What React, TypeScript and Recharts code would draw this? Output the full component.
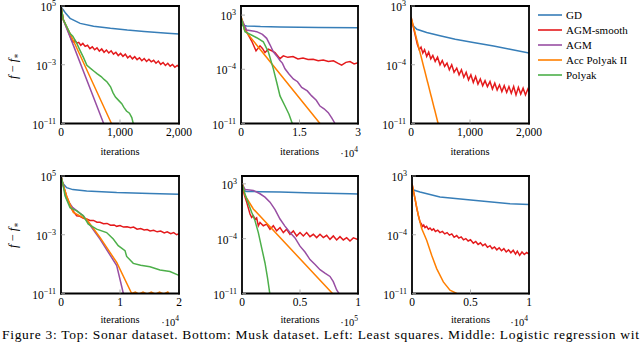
import React from 'react';
import { LineChart, Line, XAxis, YAxis } from 'recharts';

type Pt = [number, number];

const NAMES = ['GD', 'AGM-smooth', 'AGM', 'Acc Polyak II', 'Polyak'];
const COLORS = ['#377eb8', '#e41a1c', '#984ea3', '#ff7f00', '#4daf4a'];
const FONT = "'Liberation Serif', 'DejaVu Serif', serif";
const TXT = { fontFamily: FONT };
const CAPTION = 'Figure 3: Top: Sonar dataset. Bottom: Musk dataset. Left: Least squares. Middle: Logistic regression wit';

// ---------- Top-left: Sonar, least squares ----------
const sonarLsqXTicks = [0, 1000, 2000];
const sonarLsqXLabels = ['0', '1,000', '2,000'];
const sonarLsqYTicks = [1e-11, 1e-3, 1e5];
const sonarLsqYExps = ['−11', '−3', '5'];
const sonarLsqGD: Pt[] = [[0, 1e5], [15, 5e4], [40, 2.8e4], [80, 1e4], [154, 2.1e3], [325, 4.3e2], [552, 1.8e2], [838, 9e1], [1123, 5.2e1], [1408, 3.5e1], [1806, 1.9e1], [2000, 1.5e1]];
const sonarLsqAGMs: Pt[] = [[0, 1e5], [40, 1.3e3], [120, 4e1], [180, 2.2], [210, 1.26], [240, 2], [270, 0.89], [300, 1.12], [335, 0.45], [370, 0.8], [410, 0.32], [450, 0.45], [490, 0.16], [530, 0.28], [570, 0.11], [610, 0.2], [650, 0.071], [690, 0.14], [730, 0.05], [770, 0.1], [810, 0.04], [850, 0.079], [890, 0.028], [930, 0.05], [970, 0.018], [1010, 0.035], [1050, 0.014], [1090, 0.028], [1130, 8.9e-3], [1170, 0.016], [1210, 6.3e-3], [1250, 0.0126], [1290, 5e-3], [1330, 8.9e-3], [1370, 3.5e-3], [1410, 7.1e-3], [1450, 2.8e-3], [1490, 5.6e-3], [1530, 2.5e-3], [1570, 4e-3], [1610, 1.6e-3], [1650, 3.2e-3], [1690, 1.1e-3], [1730, 2e-3], [1770, 7.9e-4], [1810, 1.6e-3], [1850, 6.3e-4], [1890, 1.1e-3], [1930, 4.5e-4], [1970, 7.9e-4], [2000, 5e-4]];
const sonarLsqAGM: Pt[] = [[0, 1e5], [20, 1e4], [40, 1.2e3], [154, 6.3], [723, 1e-11]];
const sonarLsqAccP: Pt[] = [[0, 1e5], [20, 1e4], [40, 1.3e3], [154, 18], [855, 1e-11]];
const sonarLsqPolyak: Pt[] = [[0, 1e5], [20, 1e4], [40, 1.3e3], [154, 18], [200, 7.9], [268, 0.8], [320, 0.1], [380, 1e-2], [439, 8.5e-4], [500, 3.2e-4], [560, 1.3e-4], [610, 6.3e-5], [680, 2.5e-5], [730, 1e-5], [781, 4.5e-6], [840, 1e-6], [880, 1.6e-7], [923, 4e-8], [980, 1.3e-8], [1030, 5e-9], [1066, 1.6e-9], [1110, 5e-10], [1160, 2.5e-10], [1200, 6.3e-11], [1225, 1e-11]];

// ---------- Top-middle: Sonar, logistic regression ----------
const sonarLogXTicks = [0, 15000, 30000];
const sonarLogXLabels = ['0', '1.5', '3'];
const sonarLogYTicks = [1e-11, 1e-4, 1e3];
const sonarLogYExps = ['−11', '−4', '3'];
const sonarLogGD: Pt[] = [[0, 63], [300, 50], [1500, 40], [5000, 33], [10000, 30], [15000, 27], [20000, 26], [30000, 24]];
const sonarLogAGMs: Pt[] = [[0, 500], [1000, 20], [2000, 2], [2740, 0.45], [3850, 0.024], [4870, 0.107], [5500, 0.05], [6150, 0.0145], [7000, 0.039], [7900, 0.025], [8720, 0.0145], [10000, 2.4e-3], [10850, 5.4e-3], [12000, 3.5e-3], [13330, 4.5e-3], [14600, 2.2e-3], [15900, 2.8e-3], [17200, 1.8e-3], [18500, 2e-3], [19800, 1.26e-3], [21100, 1.6e-3], [22400, 1e-3], [23700, 1.26e-3], [24800, 6.3e-4], [25800, 3.5e-4], [26900, 7.9e-4], [27950, 1e-3], [29000, 5e-4], [30000, 7.1e-4]];
const sonarLogAGM: Pt[] = [[0, 500], [1450, 12], [4020, 7.2], [5500, 3.2], [6580, 1], [7500, 0.126], [8290, 0.018], [9200, 5e-3], [10000, 1.4e-3], [10600, 6.3e-4], [11280, 1.15e-4], [12300, 2.5e-5], [13410, 5.6e-6], [14500, 2.5e-6], [15560, 4.6e-7], [17000, 1.6e-7], [18120, 3.7e-8], [19300, 1e-8], [20250, 1.8e-9], [21300, 7.9e-10], [22380, 2.5e-10], [23300, 5e-11], [24100, 1e-11]];
const sonarLogAccP: Pt[] = [[0, 760], [855, 13], [20250, 1e-11]];
const sonarLogPolyak: Pt[] = [[0, 500], [1026, 7.2], [4020, 1.2], [5720, 0.36], [7000, 0.018], [8290, 1.15e-4], [9150, 2.1e-6], [10000, 3.7e-8], [11280, 1.8e-9], [12300, 1.6e-10], [13150, 1e-11]];

// ---------- Top-right: Sonar, regularized ----------
const sonarRegXTicks = [0, 1000, 2000];
const sonarRegXLabels = ['0', '1,000', '2,000'];
const sonarRegYTicks = [1e-11, 1e-4, 1e3];
const sonarRegYExps = ['−11', '−4', '3'];
const sonarRegGD: Pt[] = [[0, 10], [30, 5], [100, 1.7], [266, 0.68], [492, 0.28], [750, 0.11], [1056, 0.045], [1400, 0.017], [1678, 7.2e-3], [2000, 2.5e-3]];
const sonarRegAGMs: Pt[] = [[0, 50], [107, 2.8e-2], [140, 6.3e-3], [170, 1.26e-2], [200, 2.5e-3], [230, 6.3e-3], [266, 1e-3], [300, 3.2e-3], [335, 5e-4], [370, 1.26e-3], [410, 2.5e-4], [450, 7.9e-4], [492, 1e-4], [530, 3.2e-4], [570, 6.3e-5], [610, 1.6e-4], [650, 2.5e-5], [690, 1e-4], [730, 1.26e-5], [775, 4e-5], [815, 6.3e-6], [855, 2.5e-5], [895, 3.2e-6], [935, 1.26e-5], [975, 1.6e-6], [1015, 6.3e-6], [1056, 7.9e-7], [1095, 4e-6], [1135, 5e-7], [1175, 2e-6], [1215, 3.2e-7], [1255, 1.26e-6], [1295, 2.5e-7], [1339, 1e-6], [1380, 1.26e-7], [1420, 6.3e-7], [1460, 1e-7], [1500, 4e-7], [1540, 6.3e-8], [1580, 3.2e-7], [1622, 5e-8], [1660, 2.5e-7], [1700, 4e-8], [1740, 2.5e-7], [1780, 2.5e-8], [1820, 2e-7], [1860, 3.2e-8], [1900, 1.6e-7], [1940, 2.5e-8], [1980, 1.26e-7], [2000, 6.3e-8]];
const sonarRegAccP: Pt[] = [[0, 50], [460, 1e-11]];

// ---------- Bottom-left: Musk, least squares ----------
const muskLsqXTicks = [0, 10000, 20000];
const muskLsqXLabels = ['0', '1', '2'];
const muskLsqYTicks = [1e-11, 1e-3, 1e5];
const muskLsqYExps = ['−11', '−3', '5'];
const muskLsqGD: Pt[] = [[0, 1e5], [300, 1e4], [960, 2.6e3], [2000, 1.4e3], [4350, 9.3e2], [9440, 5.5e2], [15080, 4e2], [20000, 3.2e2]];
const muskLsqAGMs: Pt[] = [[0, 1e5], [300, 1e4], [960, 160], [1800, 3.2], [2660, 0.38], [3200, 0.32], [3800, 0.18], [4350, 0.14], [4900, 0.089], [5500, 0.089], [6100, 0.05], [6610, 0.05], [7200, 0.032], [7800, 0.035], [8400, 0.02], [9000, 0.022], [9440, 0.014], [10000, 0.018], [10600, 0.011], [11200, 0.0126], [11800, 8.9e-3], [12300, 0.011], [12900, 5.6e-3], [13500, 7.1e-3], [14100, 4.5e-3], [14600, 5e-3], [15100, 3.2e-3], [15700, 4e-3], [16300, 2.5e-3], [16900, 3.2e-3], [17500, 1.8e-3], [18000, 2.5e-3], [18600, 1.4e-3], [19100, 2e-3], [19600, 1e-3], [20000, 1.4e-3]];
const muskLsqAGM: Pt[] = [[0, 1e5], [390, 4.4e3], [960, 69], [2000, 5], [3780, 0.38], [6610, 2.6e-4], [9440, 6.3e-8], [10570, 1e-11]];
const muskLsqAccP: Pt[] = [[0, 1e5], [300, 1e4], [960, 190], [2090, 1.07], [4350, 0.13], [6610, 4.3e-4], [9440, 1.7e-7], [11980, 1e-11], [12600, 1.6e-11], [13200, 8e-12], [13900, 1.6e-11], [14600, 8e-12], [15300, 1.6e-11], [16000, 8e-12], [16700, 1.6e-11], [17400, 8e-12], [18100, 1.6e-11], [18500, 5e-12]];
const muskLsqPolyak: Pt[] = [[0, 1e5], [300, 1e4], [680, 200], [1530, 5], [2660, 1.8], [3780, 0.38], [4630, 0.028], [6040, 5.9e-3], [7730, 2e-3], [8860, 2.6e-4], [9700, 3.2e-5], [10850, 6.8e-6], [11130, 1.1e-6], [12250, 1.26e-7], [13500, 7e-8], [15080, 4.5e-8], [16780, 1.6e-8], [18470, 1e-8], [19880, 3.2e-9], [20000, 3e-9]];

// ---------- Bottom-middle: Musk, logistic regression ----------
const muskLogXTicks = [0, 50000, 100000];
const muskLogXLabels = ['0', '0.5', '1'];
const muskLogYTicks = [1e-11, 1e-4, 1e3];
const muskLogYExps = ['−11', '−4', '3'];
const muskLogGD: Pt[] = [[0, 240], [1000, 150], [4020, 107], [15000, 100], [32760, 89], [61470, 66], [93100, 54], [100000, 52]];
const muskLogAGMs: Pt[] = [[0, 650], [2000, 40], [4020, 4.6], [6900, 0.14], [8330, 5.2e-2], [9770, 8.5e-2], [11210, 3.2e-2], [12600, 4.5e-2], [14080, 4.4e-3], [15520, 1.17e-2], [18390, 4.4e-3], [21260, 7.1e-3], [24140, 1.6e-3], [27010, 4.4e-3], [29880, 9.8e-4], [32760, 2.6e-3], [35630, 6e-4], [38510, 1.6e-3], [41380, 3.6e-4], [44250, 9.8e-4], [47130, 2.2e-4], [50000, 6e-4], [52870, 2.2e-4], [55750, 6e-4], [58620, 1.8e-4], [61490, 3.6e-4], [64370, 1.35e-4], [67240, 3.6e-4], [70110, 1.35e-4], [72990, 2.7e-4], [75860, 8.1e-5], [78730, 2.2e-4], [81600, 6.8e-5], [84480, 1.8e-4], [87350, 6.8e-5], [90220, 1.35e-4], [93100, 5e-5], [96000, 1.26e-4], [100000, 7.9e-5]];
const muskLogAGM: Pt[] = [[0, 1070], [2590, 195], [9770, 145], [15500, 54], [19800, 20], [24140, 4.6], [28500, 0.5], [32760, 0.032], [37000, 4e-3], [41380, 6e-4], [45700, 1.26e-4], [50000, 1.1e-5], [54300, 2e-6], [58620, 2.1e-7], [63000, 5e-8], [67240, 1.1e-8], [71500, 4e-9], [75860, 1.5e-9], [78700, 3.2e-10], [81610, 2.8e-11], [84480, 6.3e-12]];
const muskLogAccP: Pt[] = [[0, 1700], [2590, 33], [9770, 0.62], [78000, 1e-11]];
const muskLogPolyak: Pt[] = [[0, 1070], [2590, 50], [4020, 12], [8330, 0.23], [11000, 0.025], [14080, 6e-4], [17000, 6.3e-6], [19830, 7.9e-8], [22000, 1e-9], [24140, 6.3e-12]];

// ---------- Bottom-right: Musk, regularized ----------
const muskRegXTicks = [0, 5000, 10000];
const muskRegXLabels = ['0', '0.5', '1'];
const muskRegYTicks = [1e-11, 1e-4, 1e3];
const muskRegYExps = ['−11', '−4', '3'];
const muskRegGD: Pt[] = [[0, 32], [200, 20], [684, 12.6], [2393, 3.2], [5242, 1.26], [8376, 0.51], [10000, 0.4]];
const muskRegAGMs: Pt[] = [[0, 120], [256, 2], [400, 0.16], [540, 2e-2], [684, 3.3e-3], [800, 2e-3], [900, 1e-3], [1000, 1.4e-3], [1111, 7.1e-4], [1250, 1e-3], [1400, 4.5e-4], [1538, 6.3e-4], [1700, 3.5e-4], [1850, 5e-4], [2000, 2.5e-4], [2200, 3.5e-4], [2393, 1.8e-4], [2600, 2.5e-4], [2800, 1.26e-4], [3000, 1.8e-4], [3200, 8.9e-5], [3400, 1.26e-4], [3600, 5e-5], [3818, 7.9e-5], [4000, 4e-5], [4200, 5.6e-5], [4400, 2.5e-5], [4600, 3.5e-5], [4800, 1.8e-5], [5000, 2.5e-5], [5242, 1e-5], [5450, 1.6e-5], [5650, 7.1e-6], [5850, 1.1e-5], [6050, 5e-6], [6250, 7.9e-6], [6450, 3.2e-6], [6667, 5e-6], [6850, 2.2e-6], [7050, 3.5e-6], [7250, 1.6e-6], [7450, 2.8e-6], [7650, 1.26e-6], [7850, 2.2e-6], [8050, 8.9e-7], [8250, 1.6e-6], [8450, 7.1e-7], [8650, 1.4e-6], [8850, 5e-7], [9000, 1.1e-6], [9200, 3.5e-7], [9400, 8.9e-7], [9600, 4.5e-7], [9800, 7.9e-7], [10000, 5e-7]];
const muskRegAccP: Pt[] = [[0, 120], [256, 2], [541, 2.1e-2], [826, 5.4e-4], [1254, 2.2e-5], [1681, 3.6e-7], [2108, 9.3e-9], [2678, 2.4e-10], [3248, 2.5e-11], [3818, 1e-11]];

const frameLine = { stroke: '#000', strokeWidth: 1.8, strokeLinecap: 'square' as const };
const tickLineStyle = { stroke: '#9a9a9a', strokeWidth: 0.8 };

type SeriesDef = { pts: Pt[]; color: string };
type PanelProps = {
  left: number; top: number; right: number; bottom: number;
  xDomain: [number, number]; xTicks: number[]; xLabels: string[];
  yDomain: [number, number]; yTicks: number[]; yExps: string[];
  series: SeriesDef[];
};

function Panel(p: PanelProps) {
  const YW = 50, MT = 10, MR = 22, XH = 22;
  const pw = p.right - p.left;
  const ph = p.bottom - p.top;
  const W = YW + pw + 1 + MR;
  const H = MT + ph + XH;
  const xTick = (props: any) => {
    const i = p.xTicks.indexOf(props.payload.value);
    return (
      <text x={props.x} y={props.y + 12} textAnchor="middle" style={TXT} fontSize={11.5} fill="#000">
        {p.xLabels[i]}
      </text>
    );
  };
  const yTick = (props: any) => {
    const i = p.yTicks.indexOf(props.payload.value);
    return (
      <text x={props.x - 5} y={props.y + 5} textAnchor="end" style={TXT} fontSize={11.5} fill="#000">
        10<tspan dy={-5} fontSize={8}>{p.yExps[i]}</tspan>
      </text>
    );
  };
  return (
    <div style={{ position: 'absolute', left: p.left - YW, top: p.top - MT }}>
      <LineChart width={W} height={H} margin={{ top: MT - 1, right: MR, bottom: 0, left: 0 }}>
        <XAxis xAxisId="b" dataKey="x" type="number" domain={p.xDomain} ticks={p.xTicks} interval={0}
          allowDataOverflow height={XH} axisLine={frameLine} tickLine={tickLineStyle} tickSize={-4} tickMargin={4} tick={xTick} />
        <XAxis xAxisId="t" orientation="top" dataKey="x" type="number" domain={p.xDomain} ticks={p.xTicks} interval={0}
          allowDataOverflow height={1} axisLine={frameLine} tickLine={tickLineStyle} tickSize={-4} tick={false} />
        <YAxis yAxisId="l" type="number" scale="log" domain={p.yDomain} ticks={p.yTicks} interval={0}
          allowDataOverflow width={YW} axisLine={frameLine} tickLine={tickLineStyle} tickSize={-4} tickMargin={4} tick={yTick} />
        <YAxis yAxisId="r" orientation="right" type="number" scale="log" domain={p.yDomain} ticks={p.yTicks} interval={0}
          allowDataOverflow width={1} axisLine={frameLine} tickLine={tickLineStyle} tickSize={-4} tick={false} />
        {p.series.map((s, i) => (
          <Line key={i} xAxisId="b" yAxisId="l" type="linear" data={s.pts.map(([x, y]) => ({ x, y }))}
            dataKey="y" stroke={s.color} strokeWidth={1.5} dot={false} activeDot={false} isAnimationActive={false} />
        ))}
      </LineChart>
    </div>
  );
}

const Sup = ({ children }: { children: React.ReactNode }) => (
  <tspan dy={-5} fontSize={7.5}>{children}</tspan>
);

export default function App() {
  const top = { top: 6, bottom: 123.5 };
  const bot = { top: 175.5, bottom: 293 };
  return (
    <div style={{ position: 'absolute', left: 0, top: 0, width: 640, height: 345, background: '#fff', overflow: 'hidden', fontFamily: FONT }}>
      <Panel left={61} right={179} {...top} xDomain={[0, 2000]} xTicks={sonarLsqXTicks} xLabels={sonarLsqXLabels}
        yDomain={[1e-11, 1e5]} yTicks={sonarLsqYTicks} yExps={sonarLsqYExps}
        series={[{ pts: sonarLsqGD, color: COLORS[0] }, { pts: sonarLsqAGMs, color: COLORS[1] }, { pts: sonarLsqAGM, color: COLORS[2] }, { pts: sonarLsqAccP, color: COLORS[3] }, { pts: sonarLsqPolyak, color: COLORS[4] }]} />
      <Panel left={241} right={358} {...top} xDomain={[0, 30000]} xTicks={sonarLogXTicks} xLabels={sonarLogXLabels}
        yDomain={[1e-11, 1.5e4]} yTicks={sonarLogYTicks} yExps={sonarLogYExps}
        series={[{ pts: sonarLogGD, color: COLORS[0] }, { pts: sonarLogAGMs, color: COLORS[1] }, { pts: sonarLogAGM, color: COLORS[2] }, { pts: sonarLogAccP, color: COLORS[3] }, { pts: sonarLogPolyak, color: COLORS[4] }]} />
      <Panel left={411} right={529} {...top} xDomain={[0, 2000]} xTicks={sonarRegXTicks} xLabels={sonarRegXLabels}
        yDomain={[1e-11, 1e3]} yTicks={sonarRegYTicks} yExps={sonarRegYExps}
        series={[{ pts: sonarRegGD, color: COLORS[0] }, { pts: sonarRegAGMs, color: COLORS[1] }, { pts: sonarRegAccP, color: COLORS[3] }]} />
      <Panel left={61} right={179} {...bot} xDomain={[0, 20000]} xTicks={muskLsqXTicks} xLabels={muskLsqXLabels}
        yDomain={[1e-11, 1e5]} yTicks={muskLsqYTicks} yExps={muskLsqYExps}
        series={[{ pts: muskLsqGD, color: COLORS[0] }, { pts: muskLsqAGMs, color: COLORS[1] }, { pts: muskLsqAGM, color: COLORS[2] }, { pts: muskLsqAccP, color: COLORS[3] }, { pts: muskLsqPolyak, color: COLORS[4] }]} />
      <Panel left={242} right={358} {...bot} xDomain={[0, 100000]} xTicks={muskLogXTicks} xLabels={muskLogXLabels}
        yDomain={[1e-11, 1e4]} yTicks={muskLogYTicks} yExps={muskLogYExps}
        series={[{ pts: muskLogGD, color: COLORS[0] }, { pts: muskLogAGMs, color: COLORS[1] }, { pts: muskLogAGM, color: COLORS[2] }, { pts: muskLogAccP, color: COLORS[3] }, { pts: muskLogPolyak, color: COLORS[4] }]} />
      <Panel left={412} right={529} {...bot} xDomain={[0, 10000]} xTicks={muskRegXTicks} xLabels={muskRegXLabels}
        yDomain={[1e-11, 1e3]} yTicks={muskRegYTicks} yExps={muskRegYExps}
        series={[{ pts: muskRegGD, color: COLORS[0] }, { pts: muskRegAGMs, color: COLORS[1] }, { pts: muskRegAccP, color: COLORS[3] }]} />

      <svg width={640} height={345} style={{ position: 'absolute', left: 0, top: 0, pointerEvents: 'none', fontFamily: FONT }} fill="#000">
        {[66, 235].map((cy) => (
          <text key={cy} transform={`translate(17,${cy}) rotate(-90)`} textAnchor="middle" fontSize={12.5} style={TXT}>
            <tspan fontStyle="italic">f</tspan> − <tspan fontStyle="italic">f</tspan><tspan fontSize={8.5} dy={2}>∗</tspan>
          </text>
        ))}
        {[120, 299.5, 470].map((cx) => (
          <text key={'t' + cx} x={cx} y={155} textAnchor="middle" fontSize={10.5} style={TXT}>iterations</text>
        ))}
        {[120, 300, 470.5].map((cx) => (
          <text key={'b' + cx} x={cx} y={322.5} textAnchor="middle" fontSize={10.5} style={TXT}>iterations</text>
        ))}
        <text x={358} y={157} textAnchor="end" fontSize={10.5} style={TXT}>·10<Sup>4</Sup></text>
        <text x={179} y={326} textAnchor="end" fontSize={10.5} style={TXT}>·10<Sup>4</Sup></text>
        <text x={358} y={326} textAnchor="end" fontSize={10.5} style={TXT}>·10<Sup>5</Sup></text>
        <text x={528} y={326} textAnchor="end" fontSize={10.5} style={TXT}>·10<Sup>4</Sup></text>
        {NAMES.map((n, i) => (
          <g key={n}>
            <line x1={538} x2={562} y1={15 + i * 15} y2={15 + i * 15} stroke={COLORS[i]} strokeWidth={1.6} />
            <text x={566} y={19 + i * 15} fontSize={11} style={TXT}>{n}</text>
          </g>
        ))}
        <text x={2} y={339} fontSize={13.5} textLength={637} lengthAdjust="spacing" style={TXT}>{CAPTION}</text>
      </svg>
    </div>
  );
}
